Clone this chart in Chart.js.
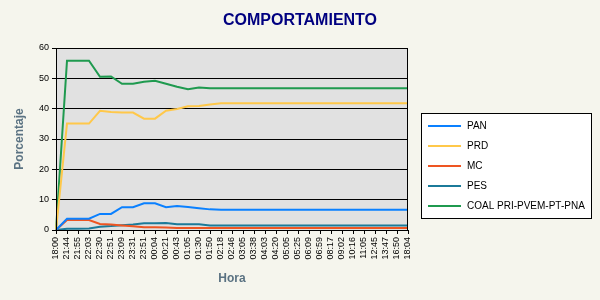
<!DOCTYPE html>
<html>
<head>
<meta charset="utf-8">
<script src="https://cdn.jsdelivr.net/npm/chart.js@4/dist/chart.umd.min.js"></script>
<style>
  html, body { margin: 0; padding: 0; background: #F5F5ED; }
  #wrap { width: 600px; height: 300px; }
</style>
</head>
<body>
<div id="wrap"><canvas id="c" width="600" height="300"></canvas></div>
<script>
const categories = ['18:00','21:44','21:55','22:03','22:30','22:51','23:09','23:31','23:51','00:04','00:21','00:43','01:05','01:30','01:50','02:18','02:46','03:05','03:38','04:03','04:20','05:05','05:25','06:09','06:59','08:17','09:02','10:16','11:05','12:45','13:47','16:50','18:04'];

const pan  = [0, 3.7, 3.7, 3.7, 5.3, 5.3, 7.5, 7.5, 8.8, 8.8, 7.5, 7.9, 7.6, 7.2, 6.8, 6.7, 6.7, 6.7, 6.7, 6.7, 6.7, 6.7, 6.7, 6.7, 6.7, 6.7, 6.7, 6.7, 6.7, 6.7, 6.7, 6.7, 6.7];
const prd  = [0, 35.1, 35.1, 35.1, 39.3, 38.9, 38.7, 38.7, 36.7, 36.7, 39.3, 39.9, 40.8, 40.9, 41.4, 41.8, 41.8, 41.8, 41.8, 41.8, 41.8, 41.8, 41.8, 41.8, 41.8, 41.8, 41.8, 41.8, 41.8, 41.8, 41.8, 41.8, 41.8];
const mc   = [0, 3.3, 3.3, 3.3, 2.0, 1.8, 1.5, 1.2, 0.9, 0.9, 0.8, 0.7, 0.7, 0.7, 0.7, 0.7, 0.7, 0.7, 0.7, 0.7, 0.7, 0.7, 0.7, 0.7, 0.7, 0.7, 0.7, 0.7, 0.7, 0.7, 0.7, 0.7, 0.7];
const pes  = [0, 0.4, 0.4, 0.5, 1.1, 1.3, 1.6, 1.8, 2.2, 2.2, 2.3, 1.9, 1.9, 1.9, 1.5, 1.5, 1.5, 1.5, 1.5, 1.5, 1.5, 1.5, 1.5, 1.5, 1.5, 1.5, 1.5, 1.5, 1.5, 1.5, 1.5, 1.5, 1.5];
const coal = [0, 55.8, 55.8, 55.8, 50.5, 50.6, 48.2, 48.2, 48.9, 49.2, 48.2, 47.2, 46.4, 47.0, 46.7, 46.7, 46.7, 46.7, 46.7, 46.7, 46.7, 46.7, 46.7, 46.7, 46.7, 46.7, 46.7, 46.7, 46.7, 46.7, 46.7, 46.7, 46.7];

const seriesNames = ['PAN', 'PRD', 'MC', 'PES', 'COAL PRI-PVEM-PT-PNA'];
const seriesColors = ['#0A80FF', '#FFC84A', '#EE5522', '#1B7A99', '#1F9A4F'];
const seriesValues = [pan, prd, mc, pes, coal];

const chartTitle = 'COMPORTAMIENTO';
const yTitle = 'Porcentaje';
const xTitle = 'Hora';

const FONT = "'Liberation Sans', Arial, sans-serif";

const decor = {
  id: 'decor',
  beforeDraw(chart) {
    const {ctx, chartArea: a} = chart;
    ctx.save();
    ctx.fillStyle = '#F5F5ED';
    ctx.fillRect(0, 0, chart.width, chart.height);
    ctx.fillStyle = '#E1E1E1';
    ctx.fillRect(a.left, a.top, a.right - a.left, a.bottom - a.top);
    ctx.fillStyle = '#000080';
    ctx.font = 'bold 16px ' + FONT;
    ctx.textAlign = 'center';
    ctx.textBaseline = 'middle';
    ctx.fillText(chartTitle, 300, 21);
    ctx.restore();
  },
  afterDraw(chart) {
    const {ctx, chartArea: a} = chart;
    ctx.save();
    ctx.strokeStyle = '#000';
    ctx.lineWidth = 1;
    ctx.strokeRect(Math.round(a.left) + 0.5, Math.round(a.top) + 0.5, Math.round(a.right - a.left) - 1, Math.round(a.bottom - a.top));
    // legend
    ctx.fillStyle = '#FFFFFF';
    ctx.fillRect(421.5, 113.5, 170, 105);
    ctx.strokeRect(421.5, 113.5, 170, 105);
    ctx.font = '10px ' + FONT;
    ctx.textAlign = 'left';
    ctx.textBaseline = 'middle';
    chart.data.datasets.forEach((ds, i) => {
      const y = 126 + i * 20;
      ctx.strokeStyle = ds.borderColor;
      ctx.lineWidth = 2;
      ctx.beginPath();
      ctx.moveTo(428, y);
      ctx.lineTo(461, y);
      ctx.stroke();
      ctx.fillStyle = '#000';
      ctx.fillText(ds.label, 467, y);
    });
    ctx.restore();
  }
};

new Chart(document.getElementById('c'), {
  type: 'line',
  data: {
    labels: categories,
    datasets: seriesNames.map((n, i) => ({
      label: n,
      data: seriesValues[i],
      borderColor: seriesColors[i],
      backgroundColor: seriesColors[i],
      borderWidth: 2,
      pointRadius: 0,
      tension: 0,
      fill: false
    }))
  },
  options: {
    responsive: false,
    animation: false,
    devicePixelRatio: 1,
    layout: { padding: { top: 48, right: 192, left: 0, bottom: 0 } },
    plugins: { legend: { display: false }, title: { display: false }, tooltip: { enabled: false } },
    scales: {
      x: {
        offset: false,
        afterFit(s) { s.height = 70; },
        grid: { drawOnChartArea: false, color: '#000', tickLength: 4, tickColor: '#000' },
        border: { color: '#000', width: 1 },
        ticks: { autoSkip: false, maxRotation: 90, minRotation: 90, color: '#000', padding: 3, font: { family: FONT, size: 9 } },
        title: { display: true, text: xTitle, color: '#5A7282', font: { family: FONT, size: 12, weight: 'bold' }, padding: { top: 0, bottom: 14 } }
      },
      y: {
        min: 0, max: 60,
        afterFit(s) { s.width = 56; },
        grid: { color: '#000', lineWidth: 1, tickLength: 4, tickColor: '#000' },
        border: { color: '#000', width: 1 },
        ticks: { stepSize: 10, color: '#000', padding: 3, font: { family: FONT, size: 9 } },
        title: { display: true, text: yTitle, color: '#5A7282', font: { family: FONT, size: 12, weight: 'bold' }, padding: { top: 12, bottom: 0 } }
      }
    }
  },
  plugins: [decor]
});
</script>
</body>
</html>
